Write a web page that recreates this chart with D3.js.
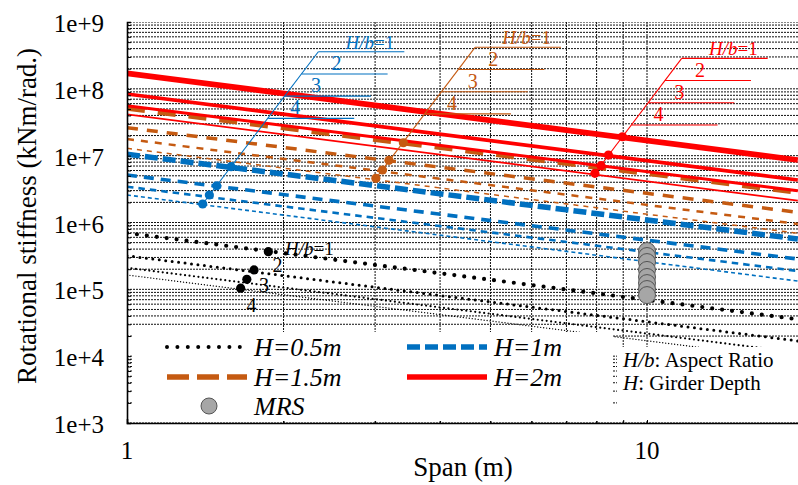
<!DOCTYPE html>
<html>
<head>
<meta charset="utf-8">
<script src="https://cdn.jsdelivr.net/npm/d3@7"></script>
<style>
  body { margin: 0; background: #fff; }
  svg { display: block; font-family: "Liberation Serif", "Times New Roman", serif; }
</style>
</head>
<body>
<svg id="chart" width="798" height="485"></svg>
<script>
// span range covered by the straight lines (log-log)
const spanEnds = [1, 19.5];
const depthLabels = ["H=0.5m", "H=1m", "H=1.5m", "H=2m"];
const ratioLabels = ["H/b=1", "2", "3", "4"];

// stiffness at span 1 and at the right edge, one row per H/b
const stiffH05 = [[6.97e5, 3.56e4], [3.18e5, 1.69e4], [2.10e5, 1.13e4], [1.64e5, 8.8e3]];
const stiffH10 = [[1.05e7, 5.66e5], [5.14e6, 2.84e5], [3.43e6, 1.88e5], [2.58e6, 1.33e5]];
const stiffH15 = [[5.11e7, 2.82e6], [2.62e7, 1.42e6], [1.77e7, 9.5e5], [1.29e7, 6.9e5]];
const stiffH20 = [[1.71e8, 8.6e6], [8.37e7, 4.32e6], [5.59e7, 2.99e6], [4.16e7, 2.12e6]];

// marked points (span, stiffness) for H/b = 1..4
const markSpanH05 = [1.87, 1.755, 1.70, 1.654];
const markValH05 = [3.66e5, 1.95e5, 1.41e5, 1.04e5];
const markSpanH10 = [1.585, 1.488, 1.44, 1.398];
const markValH10 = [6.84e6, 3.55e6, 2.58e6, 1.89e6];
const markSpanH15 = [3.40, 3.19, 3.10, 3.01];
const markValH15 = [1.56e7, 8.53e6, 6.10e6, 4.58e6];
const markSpanH20 = [8.97, 8.43, 8.16, 7.94];
const markValH20 = [1.92e7, 1.02e7, 7.08e6, 5.45e6];

// label anchors (span, stiffness)
const labelTopH05 = [2.013, 3.26e5];
const labelTopH10 = [2.333, 3.59e8];
const labelTopH15 = [4.67, 4.18e8];
const labelTopH20 = [11.66, 2.86e8];

// MRS results at 10 m span
const mrsSpan = 10;
const mrsVals = [3.74e5, 3.15e5, 2.56e5, 1.95e5, 1.53e5, 1.24e5, 1.01e5, 8.2e4];

const yTickVals = [1e3, 1e4, 1e5, 1e6, 1e7, 1e8, 1e9];
const yTickLabels = ["1e+3", "1e+4", "1e+5", "1e+6", "1e+7", "1e+8", "1e+9"];
const xTickVals = [1, 10];
const xTickLabels = ["1", "10"];

const groups = [
  { name: depthLabels[0], color: "#000000", lines: stiffH05, ms: markSpanH05, mv: markValH05, top: labelTopH05,
    widths: [4.2, 3, 2.2, 1.4], dash: ["0,10", "0,6.5", "0,4.5", "0,3"], cap: "round" },
  { name: depthLabels[1], color: "#0070C0", lines: stiffH10, ms: markSpanH10, mv: markValH10, top: labelTopH10,
    widths: [5.5, 3.6, 2.6, 1.6], dash: ["13,5", "10,7", "6.5,5", "4,3"], cap: "butt" },
  { name: depthLabels[2], color: "#C55A11", lines: stiffH15, ms: markSpanH15, mv: markValH15, top: labelTopH15,
    widths: [5, 3.5, 2.5, 1.5], dash: ["18,13", "11,9", "7,7", "5,5"], cap: "butt" },
  { name: depthLabels[3], color: "#FF0000", lines: stiffH20, ms: markSpanH20, mv: markValH20, top: labelTopH20,
    widths: [5.7, 3.7, 3, 1.8], dash: [null, null, null, null], cap: "butt" }
];

const svg = d3.select("#chart");
const plot = { left: 127, right: 798, top: 22, bottom: 423 };

const x = d3.scaleLog().domain([1, 20]).range([plot.left, plot.left + 520 * Math.log10(20)]);
const y = d3.scaleLog().domain([1e3, 1e9]).range([plot.bottom, plot.top]);

svg.append("defs").append("clipPath").attr("id", "clip")
  .append("rect")
  .attr("x", plot.left).attr("y", plot.top)
  .attr("width", plot.right - plot.left).attr("height", plot.bottom - plot.top);

// grid
const yGrid = [];
for (let k = 3; k < 9; k++) {
  for (let m = 1; m < 10; m++) yGrid.push(m * Math.pow(10, k));
}
yGrid.push(1e9);
const xGrid = [1, 2, 3, 4, 5, 6, 7, 8, 9, 10, 20];

const grid = svg.append("g").attr("clip-path", "url(#clip)");
grid.selectAll(".hgrid").data(yGrid).enter().append("line")
  .attr("class", "hgrid")
  .attr("x1", plot.left).attr("x2", plot.right)
  .attr("y1", d => y(d)).attr("y2", d => y(d))
  .attr("stroke", "#111").attr("stroke-width", 1).attr("stroke-dasharray", "2,1");
grid.selectAll(".vgrid").data(xGrid).enter().append("line")
  .attr("class", "vgrid")
  .attr("x1", d => x(d)).attr("x2", d => x(d))
  .attr("y1", plot.top).attr("y2", plot.bottom)
  .attr("stroke", "#111").attr("stroke-width", 1).attr("stroke-dasharray", "2,1");

// series lines
const lineGen = d3.line().x(d => x(d[0])).y(d => y(d[1]));
const series = svg.append("g").attr("clip-path", "url(#clip)");
groups.forEach(g => {
  g.lines.forEach((vals, i) => {
    const pts = spanEnds.map((s, j) => [s, vals[j]]);
    series.append("path")
      .attr("d", lineGen(pts))
      .attr("fill", "none")
      .attr("stroke", g.color)
      .attr("stroke-width", g.widths[i])
      .attr("stroke-linecap", g.cap)
      .attr("stroke-dasharray", g.dash[i]);
  });
});

// MRS
series.selectAll(".mrs").data(mrsVals).enter().append("circle")
  .attr("class", "mrs")
  .attr("cx", x(mrsSpan)).attr("cy", d => y(d)).attr("r", 8.5)
  .attr("fill", "#a6a6a6").attr("stroke", "#555").attr("stroke-width", 1);

// markers, leader lines and H/b labels
const ann = svg.append("g");
groups.forEach((g, gi) => {
  const tx = x(g.top[0]), ty = y(g.top[1]);
  if (gi > 0) {
    ann.append("line")
      .attr("x1", x(g.ms[3])).attr("y1", y(g.mv[3]))
      .attr("x2", tx).attr("y2", ty)
      .attr("stroke", g.color).attr("stroke-width", 1.1);
    ratioLabels.forEach((lab, i) => {
      const ux = tx - 16.7 * i, uy = ty + 22.2 * i;
      ann.append("line")
        .attr("x1", ux).attr("x2", ux + 86)
        .attr("y1", uy).attr("y2", uy)
        .attr("stroke", g.color).attr("stroke-width", 1.1);
      const t = ann.append("text")
        .attr("fill", g.color)
        .attr("font-size", i == 0 ? 19 : 20)
        .attr("y", uy - (i == 0 ? 3 : 4));
      if (i == 0) {
        t.attr("x", ux + 76).attr("text-anchor", "end");
        t.append("tspan").attr("font-style", "italic").text("H/b");
        t.append("tspan").text("=1");
      } else {
        t.attr("x", ux + 34 - 4 * i).text(lab);
      }
    });
  } else {
    const offs = [[0, 0], [-12.5, 17], [-26, 37], [-38.5, 57]];
    ratioLabels.forEach((lab, i) => {
      const t = ann.append("text")
        .attr("fill", g.color).attr("font-size", i == 0 ? 19 : 20)
        .attr("x", tx + offs[i][0]).attr("y", ty + offs[i][1]);
      if (i == 0) {
        t.append("tspan").attr("font-style", "italic").text("H/b");
        t.append("tspan").text("=1");
      } else {
        t.text(lab);
      }
    });
  }
  ann.selectAll(".mk" + gi).data(g.ms).enter().append("circle")
    .attr("class", "mk" + gi)
    .attr("cx", d => x(d)).attr("cy", (d, i) => y(g.mv[i])).attr("r", 4.6)
    .attr("fill", g.color);
});

// axes
const yAxis = svg.append("g").attr("transform", "translate(" + plot.left + ",0)")
  .call(d3.axisRight(y).tickValues(yGrid).tickSize(4).tickFormat(""));
yAxis.select(".domain").attr("stroke", "#000").attr("stroke-width", 1.6);
yAxis.selectAll("line").attr("stroke", "#000");

const xAxis = svg.append("g").attr("transform", "translate(0," + plot.bottom + ")")
  .call(d3.axisTop(x).tickValues(xGrid).tickSize(4).tickFormat(""));
xAxis.select(".domain").attr("stroke", "#000").attr("stroke-width", 1.6);
xAxis.selectAll("line").attr("stroke", "#000");

svg.selectAll(".ylab").data(yTickVals).enter().append("text")
  .attr("class", "ylab")
  .attr("x", 104).attr("y", d => y(d) + 10)
  .attr("text-anchor", "end").attr("font-size", 25)
  .text((d, i) => yTickLabels[i]);

svg.selectAll(".xlab").data(xTickVals).enter().append("text")
  .attr("class", "xlab")
  .attr("x", d => x(d)).attr("y", 459)
  .attr("text-anchor", "middle").attr("font-size", 25)
  .text((d, i) => xTickLabels[i]);

svg.append("text")
  .attr("x", 463).attr("y", 476)
  .attr("text-anchor", "middle").attr("font-size", 27)
  .text("Span (m)");

svg.append("text")
  .attr("transform", "translate(36,216) rotate(-90)")
  .attr("text-anchor", "middle").attr("font-size", 27)
  .text("Rotational stiffness (kNm/rad.)");

// legend
const leg = svg.append("g");
leg.append("rect").attr("x", 132).attr("y", 332).attr("width", 481).attr("height", 89).attr("fill", "#fff");
leg.append("rect").attr("x", 617).attr("y", 347).attr("width", 181).attr("height", 73).attr("fill", "#fff");

const legPos = [[167, 347], [407, 347], [167, 377], [407, 377]];
const legDash = ["0,10.4", "13,5", "22,8", null];
groups.forEach((g, i) => {
  const p = legPos[i];
  leg.append("line")
    .attr("x1", p[0]).attr("x2", p[0] + 80)
    .attr("y1", p[1]).attr("y2", p[1])
    .attr("stroke", g.color)
    .attr("stroke-width", i == 0 ? 4 : 5.5)
    .attr("stroke-linecap", g.cap)
    .attr("stroke-dasharray", legDash[i]);
  leg.append("text")
    .attr("x", p[0] + 87).attr("y", p[1] + 9)
    .attr("font-size", 26).attr("font-style", "italic")
    .text(g.name);
});
leg.append("circle").attr("cx", 209).attr("cy", 406).attr("r", 8)
  .attr("fill", "#a6a6a6").attr("stroke", "#555").attr("stroke-width", 1);
leg.append("text").attr("x", 254).attr("y", 415)
  .attr("font-size", 26).attr("font-style", "italic").text("MRS");

const note1 = leg.append("text").attr("x", 623).attr("y", 367).attr("font-size", 21);
note1.append("tspan").attr("font-style", "italic").text("H/b");
note1.append("tspan").text(": Aspect Ratio");
const note2 = leg.append("text").attr("x", 623).attr("y", 390).attr("font-size", 21);
note2.append("tspan").attr("font-style", "italic").text("H");
note2.append("tspan").text(": Girder Depth");
</script>
</body>
</html>
